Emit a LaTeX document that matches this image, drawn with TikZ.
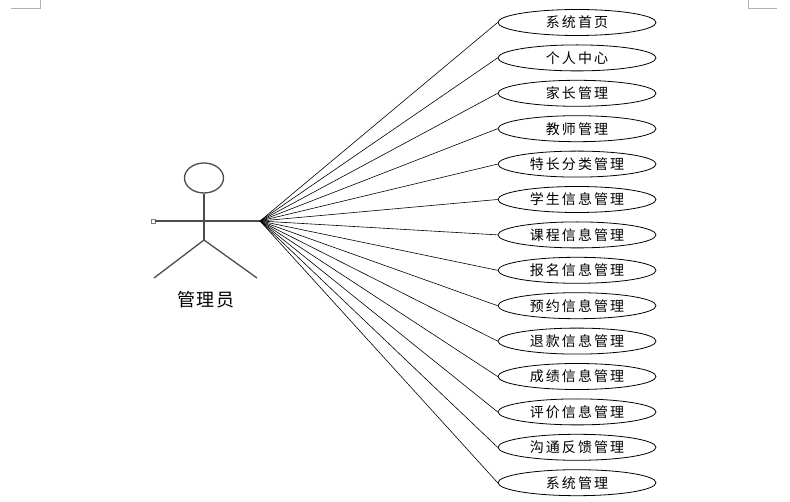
\documentclass[tikz,border=0pt]{standalone}
\usepackage{fontspec}
\usetikzlibrary{shapes.geometric}
\newfontfamily\cjk[LetterSpace=15]{Noto Sans CJK SC}
\newfontfamily\cjkl[LetterSpace=8]{Noto Sans CJK SC}
\begin{document}
\begin{tikzpicture}[x=1pt,y=-1pt,
  usecase/.style={draw=black,line width=0.8pt,ellipse,minimum width=158pt,minimum height=26pt,inner sep=0pt,font=\cjk\fontsize{14}{16}\selectfont},
  actorline/.style={draw=black!70,line width=1.3pt},
  link/.style={draw=black,line width=0.6pt},
  corner/.style={draw=black!30,line width=0.6pt}]
\useasboundingbox (0,0) rectangle (790,502);
% page corner marks
\draw[corner] (11,8) -- (40,8) -- (40,0);
\draw[corner] (748,0) -- (748,8) -- (777,8);
% actor
\node[draw=black!70,line width=1.3pt,ellipse,minimum width=39pt,minimum height=30pt,inner sep=0pt] (head) at (204,178) {};
\coordinate (hip) at (204,240);
\coordinate (hub) at (260,221);
\node[draw=black!50,line width=0.6pt,minimum size=4pt,inner sep=0pt] (hand) at (153,221) {};
\coordinate (lfoot) at (154,278);
\coordinate (rfoot) at (257,278);
\draw[actorline] (head.south) -- (hip);
\draw[actorline] (hand.east) -- (hub);
\draw[actorline] (lfoot) -- (hip) -- (rfoot);
\node[font=\cjkl\fontsize{18}{20}\selectfont] (alabel) at (206,300) {管理员};
% use cases
\foreach \i/\t in {1/系统首页,2/个人中心,3/家长管理,4/教师管理,5/特长分类管理,6/学生信息管理,7/课程信息管理,8/报名信息管理,9/预约信息管理,10/退款信息管理,11/成绩信息管理,12/评价信息管理,13/沟通反馈管理,14/系统管理}{
  \node[usecase] (u\i) at (577,{22.5+35.4*(\i-1)}) {\t};
  \draw[link] (hub) -- (u\i.west);
}
\end{tikzpicture}
\end{document}
